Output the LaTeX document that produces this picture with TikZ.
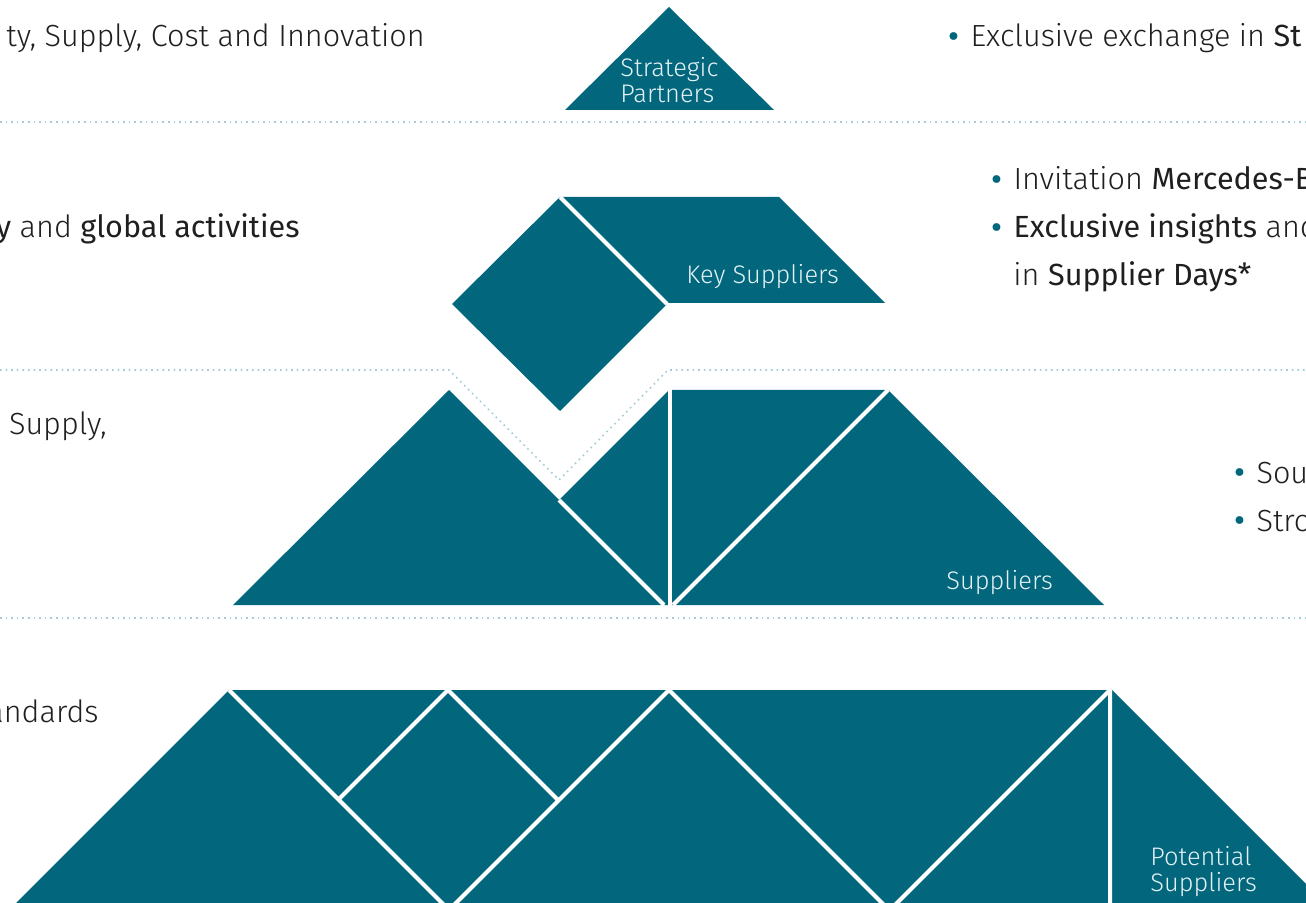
\documentclass[tikz,border=0pt]{standalone}
\usepackage{fontspec}
\setmainfont{Fira Sans Light}[BoldFont={Fira Sans}]
\definecolor{mbteal}{HTML}{02677C}
\definecolor{dotblue}{HTML}{A3CBD9}
\definecolor{labelwhite}{HTML}{E3F1F5}
\newcommand\blt{\textcolor{mbteal}{\raisebox{-0.24em}{\scalebox{1.7}{\textbullet}}}\hspace{0.3em}}
\begin{document}
\begin{tikzpicture}
[x=0.5pt,y=-0.5pt,
 tile/.style={fill=mbteal},
 cut/.style={draw=white,line width=2pt},
 tierline/.style={draw=dotblue,line width=0.8pt,dotted},
 txt/.style={font=\fontsize{15.3}{18}\selectfont,inner sep=0pt,text=black!88},
 tilelabel/.style={font=\fontsize{12.7}{13}\selectfont,inner sep=0pt,text=labelwhite,align=left}]
\useasboundingbox (0,0) rectangle (1306,903);
\clip (0,0) rectangle (1306,903);
%% dotted lines between the tiers
\draw[tierline] (0,122) -- (1306,122);
\draw[tierline] (0,370) -- (449,370) -- (559,480) -- (668,370) -- (1306,370);
\draw[tierline] (0,618) -- (1306,618);
%% strategic partners
\fill[tile] (669,7) -- (774,110) -- (565,110) -- cycle;
%% key suppliers
\fill[tile] (452,304) -- (560,197) -- (667,304) -- (560,411) -- cycle;
\fill[tile] (560,197) -- (779,197) -- (885,303) -- (667,303) -- cycle;
\draw[cut] (560,197) -- (667,304);
%% suppliers
\fill[tile] (233,605) -- (449,390) -- (559,500) -- (669,390) -- (888,390)
  -- (1104,605) -- cycle;
\draw[cut] (559,500) -- (664,605);
\draw[cut] (670,388) -- (670,607);
\draw[cut] (888,390) -- (673,605);
%% potential suppliers
\fill[tile] (229,690) -- (1112,690) -- (1331,909) -- (10,909) -- cycle;
\draw[cut] (229,690) -- (448,909)
  (448,690) -- (339,799)
  (448,690) -- (558,800)
  (669,690) -- (448,911)
  (669,690) -- (890,911)
  (1110,690) -- (889,911)
  (1110,690) -- (1110,909);
%% labels in the tiles
\node[tilelabel,anchor=north west] (strategic) at (620,57) {Strategic\\Partners};
\node[tilelabel,anchor=base west] (key) at (686,284) {Key Suppliers};
\node[tilelabel,anchor=base west] (suppliers) at (946,589) {Suppliers};
\node[tilelabel,anchor=north west] (potential) at (1150,846) {Potential\\Suppliers};
%% texts left and right
\node[txt,anchor=base east] (goal) at (425,47) {ty, Supply, Cost and Innovation};
\node[txt,anchor=base west] (exchange) at (946,47) {\blt Exclusive exchange in \textbf{St}};
\node[txt,anchor=base west] (invite) at (989,190) {\blt Invitation \textbf{Mercedes-B}};
\node[txt,anchor=base west] (insights) at (989,238) {\blt \textbf{Exclusive insights} and};
\node[txt,anchor=base west] (days) at (1013,286) {in \textbf{Supplier Days*}};
\node[txt,anchor=base east] (strategy) at (300,238) {\textbf{gy} and \textbf{global activities}};
\node[txt,anchor=base east] (supply) at (107,435) {Supply,};
\node[txt,anchor=base west] (sourcing) at (1232,483) {\blt Sou};
\node[txt,anchor=base west] (strong) at (1232,531) {\blt Stro};
\node[txt,anchor=base east] (standards) at (99,722) {andards};
\end{tikzpicture}
\end{document}
